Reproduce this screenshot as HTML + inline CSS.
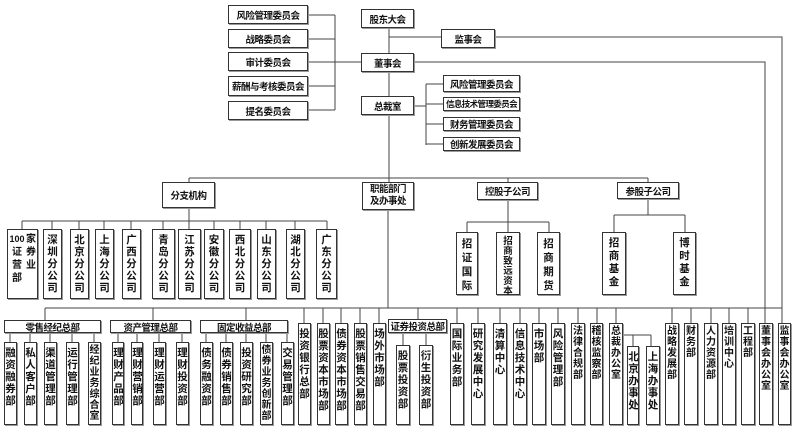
<!DOCTYPE html>
<html><head><meta charset="utf-8">
<style>
body{margin:0;background:#fff;}
#c{position:relative;width:792px;height:429px;overflow:hidden;background:#fff;font-family:"Liberation Sans","Noto Sans CJK SC",sans-serif;font-weight:bold;color:#111;}
svg{position:absolute;left:0;top:0;}
.b{position:absolute;box-sizing:border-box;border:1px solid #333;background:#fff;box-shadow:1px 1px 0 #999;font-size:10px;text-align:center;}
.h{display:flex;align-items:center;justify-content:center;white-space:nowrap;letter-spacing:-0.5px;font-size:9.5px;}
.v p{margin:4px auto 0;width:11px;font-size:10.5px;line-height:12px;word-break:break-all;text-align:center;}
.v p.t{line-height:11px;font-size:10px;margin-top:2px;}
</style></head><body><div id="c">
<svg width="792" height="429" stroke="#444" stroke-width="1" fill="none" shape-rendering="crispEdges">
<path d="M308 15H335M308 39H335M308 62H335M308 86H335M308 110H335M335 15V110M335 62H361"/>
<path d="M389 28V53M389 72V96M389 115V182M389 37H441M495 37H782V323M414 62H765V323"/>
<path d="M414 106H426M426 84V145M426 84H443M426 104H443M426 124H443M426 144H443"/>
<path d="M189 178H648M189 178V182M508 178V182M648 178V182"/>
<path d="M189 208V221M22 221H327M22 221V229M52 221V229M79 221V229M104 221V229M131 221V229M163 221V229M189 221V229M214 221V229M240 221V229M266 221V229M295 221V229M327 221V229"/>
<path d="M508 200V222M467 222H549M467 222V232M508 222V232M549 222V232"/>
<path d="M648 199V215M614 215H685M614 215V232M685 215V232"/>
<path d="M388 210V308M45 308H782"/>
<path d="M45 308V320M153 308V320M246 308V320M418 308V320"/>
<path d="M304 308V323M323 308V323M341 308V323M360 308V323M379 308V323M457 308V323M478 308V323M500 308V323M520 308V323M539 308V323M558 308V323M578 308V323M597 308V323M616 308V323M672 308V323M691 308V323M711 308V323M729 308V323M748 308V323"/>
<path d="M10 333V342M30 333V342M50 333V342M72 333V342M94 333V342M118 333V342M137 333V342M159 333V342M182 333V342M206 333V342M226 333V342M246 333V342M266 333V342M287 333V342"/>
<path d="M403 333V345M426 333V345M622 335H651M633 335V346M651 335V346"/>
</svg>
<div class="b h" style="left:228px;top:5px;width:80px;height:19px">风险管理委员会</div>
<div class="b h" style="left:228px;top:29px;width:80px;height:19px">战略委员会</div>
<div class="b h" style="left:228px;top:52px;width:80px;height:19px">审计委员会</div>
<div class="b h" style="left:228px;top:76px;width:80px;height:20px">薪酬与考核委员会</div>
<div class="b h" style="left:228px;top:101px;width:80px;height:19px">提名委员会</div>
<div class="b h" style="left:361px;top:9px;width:53px;height:19px">股东大会</div>
<div class="b h" style="left:441px;top:29px;width:54px;height:19px">监事会</div>
<div class="b h" style="left:361px;top:53px;width:53px;height:19px">董事会</div>
<div class="b h" style="left:361px;top:96px;width:53px;height:19px">总裁室</div>
<div class="b h" style="left:443px;top:75px;width:77px;height:17px">风险管理委员会</div>
<div class="b h" style="left:443px;top:97px;width:77px;height:14px;font-size:8.5px;letter-spacing:-0.6px">信息技术管理委员会</div>
<div class="b h" style="left:443px;top:117px;width:77px;height:14px">财务管理委员会</div>
<div class="b h" style="left:443px;top:137px;width:77px;height:14px">创新发展委员会</div>
<div class="b h" style="left:162px;top:182px;width:53px;height:26px">分支机构</div>
<div class="b h" style="left:362px;top:182px;width:52px;height:28px;white-space:normal;line-height:12px">职能部门<br>及办事处</div>
<div class="b h" style="left:477px;top:182px;width:61px;height:18px">控股子公司</div>
<div class="b h" style="left:617px;top:182px;width:62px;height:17px">参股子公司</div>
<div class="b" style="left:7px;top:229px;width:31px;height:70px;font-size:10px;line-height:13px"><div style="position:absolute;left:1px;top:3px;width:16px;text-align:center;font-size:9px">100<br><span style="font-size:10px">证<br>营<br>部</span></div><div style="position:absolute;left:17px;top:3px;width:12px">家<br>券<br>业</div></div>
<div class="b v" style="left:43px;top:229px;width:19px;height:70px"><p>深圳分公司</p></div>
<div class="b v" style="left:70px;top:229px;width:19px;height:70px"><p>北京分公司</p></div>
<div class="b v" style="left:95px;top:229px;width:19px;height:70px"><p>上海分公司</p></div>
<div class="b v" style="left:122px;top:229px;width:19px;height:70px"><p>广西分公司</p></div>
<div class="b v" style="left:152px;top:229px;width:23px;height:70px"><p>青岛分公司</p></div>
<div class="b v" style="left:178px;top:229px;width:23px;height:70px"><p>江苏分公司</p></div>
<div class="b v" style="left:204px;top:229px;width:20px;height:70px"><p>安徽分公司</p></div>
<div class="b v" style="left:229px;top:229px;width:22px;height:70px"><p>西北分公司</p></div>
<div class="b v" style="left:257px;top:229px;width:19px;height:70px"><p>山东分公司</p></div>
<div class="b v" style="left:286px;top:229px;width:19px;height:70px"><p>湖北分公司</p></div>
<div class="b v" style="left:316px;top:229px;width:21px;height:70px"><p>广东分公司</p></div>
<div class="b v" style="left:456px;top:232px;width:22px;height:63px"><p style="line-height:14px">招证国际</p></div>
<div class="b v" style="left:496px;top:232px;width:24px;height:63px"><p style="line-height:10px;font-size:9.5px">招商致远资本</p></div>
<div class="b v" style="left:537px;top:232px;width:23px;height:63px"><p style="line-height:14px">招商期货</p></div>
<div class="b v" style="left:602px;top:232px;width:24px;height:63px"><p style="line-height:13px">招商基金</p></div>
<div class="b v" style="left:673px;top:232px;width:23px;height:63px"><p style="line-height:13px">博时基金</p></div>
<div class="b h" style="left:4px;top:320px;width:97px;height:13px">零售经纪总部</div>
<div class="b h" style="left:110px;top:320px;width:81px;height:13px">资产管理总部</div>
<div class="b h" style="left:200px;top:320px;width:88px;height:13px">固定收益总部</div>
<div class="b h" style="left:388px;top:319px;width:59px;height:14px">证券投资总部</div>
<div class="b v" style="left:4px;top:342px;width:13px;height:83px"><p>融资融券部</p></div>
<div class="b v" style="left:24px;top:342px;width:13px;height:83px"><p>私人客户部</p></div>
<div class="b v" style="left:44px;top:342px;width:13px;height:83px"><p>渠道管理部</p></div>
<div class="b v" style="left:66px;top:342px;width:13px;height:83px"><p>运行管理部</p></div>
<div class="b v" style="left:88px;top:342px;width:13px;height:83px"><p class="t">经纪业务综合室</p></div>
<div class="b v" style="left:112px;top:342px;width:12px;height:83px"><p>理财产品部</p></div>
<div class="b v" style="left:131px;top:342px;width:12px;height:83px"><p>理财营销部</p></div>
<div class="b v" style="left:153px;top:342px;width:13px;height:83px"><p>理财运营部</p></div>
<div class="b v" style="left:176px;top:342px;width:13px;height:83px"><p>理财投资部</p></div>
<div class="b v" style="left:200px;top:342px;width:13px;height:83px"><p>债务融资部</p></div>
<div class="b v" style="left:220px;top:342px;width:13px;height:83px"><p>债券销售部</p></div>
<div class="b v" style="left:240px;top:342px;width:13px;height:83px"><p>投资研究部</p></div>
<div class="b v" style="left:260px;top:342px;width:13px;height:83px"><p class="t">债券业务创新部</p></div>
<div class="b v" style="left:281px;top:342px;width:13px;height:83px"><p>交易管理部</p></div>
<div class="b v" style="left:298px;top:323px;width:13px;height:102px"><p>投资银行总部</p></div>
<div class="b v" style="left:317px;top:323px;width:13px;height:102px"><p>股票资本市场部</p></div>
<div class="b v" style="left:335px;top:323px;width:13px;height:102px"><p>债券资本市场部</p></div>
<div class="b v" style="left:354px;top:323px;width:13px;height:102px"><p>股票销售交易部</p></div>
<div class="b v" style="left:373px;top:323px;width:13px;height:102px"><p>场外市场部</p></div>
<div class="b v" style="left:396px;top:345px;width:14px;height:80px"><p>股票投资部</p></div>
<div class="b v" style="left:419px;top:345px;width:14px;height:80px"><p>衍生投资部</p></div>
<div class="b v" style="left:450px;top:323px;width:14px;height:102px"><p>国际业务部</p></div>
<div class="b v" style="left:471px;top:323px;width:14px;height:102px"><p>研究发展中心</p></div>
<div class="b v" style="left:493px;top:323px;width:14px;height:102px"><p>清算中心</p></div>
<div class="b v" style="left:513px;top:323px;width:14px;height:102px"><p>信息技术中心</p></div>
<div class="b v" style="left:532px;top:323px;width:14px;height:102px"><p>市场部</p></div>
<div class="b v" style="left:551px;top:323px;width:14px;height:102px"><p>风险管理部</p></div>
<div class="b v" style="left:571px;top:323px;width:14px;height:102px"><p class="t">法律合规部</p></div>
<div class="b v" style="left:590px;top:323px;width:13px;height:102px"><p class="t">稽核监察部</p></div>
<div class="b v" style="left:609px;top:323px;width:14px;height:102px"><p class="t">总裁办公室</p></div>
<div class="b v" style="left:627px;top:346px;width:12px;height:79px"><p>北京办事处</p></div>
<div class="b v" style="left:646px;top:346px;width:14px;height:79px"><p>上海办事处</p></div>
<div class="b v" style="left:665px;top:323px;width:14px;height:102px"><p class="t">战略发展部</p></div>
<div class="b v" style="left:684px;top:323px;width:14px;height:102px"><p class="t">财务部</p></div>
<div class="b v" style="left:704px;top:323px;width:14px;height:102px"><p class="t">人力资源部</p></div>
<div class="b v" style="left:722px;top:323px;width:14px;height:102px"><p class="t">培训中心</p></div>
<div class="b v" style="left:741px;top:323px;width:14px;height:102px"><p class="t">工程部</p></div>
<div class="b v" style="left:759px;top:323px;width:14px;height:102px"><p class="t">董事会办公室</p></div>
<div class="b v" style="left:778px;top:323px;width:13px;height:102px"><p class="t">监事会办公室</p></div>
</div></body></html>
